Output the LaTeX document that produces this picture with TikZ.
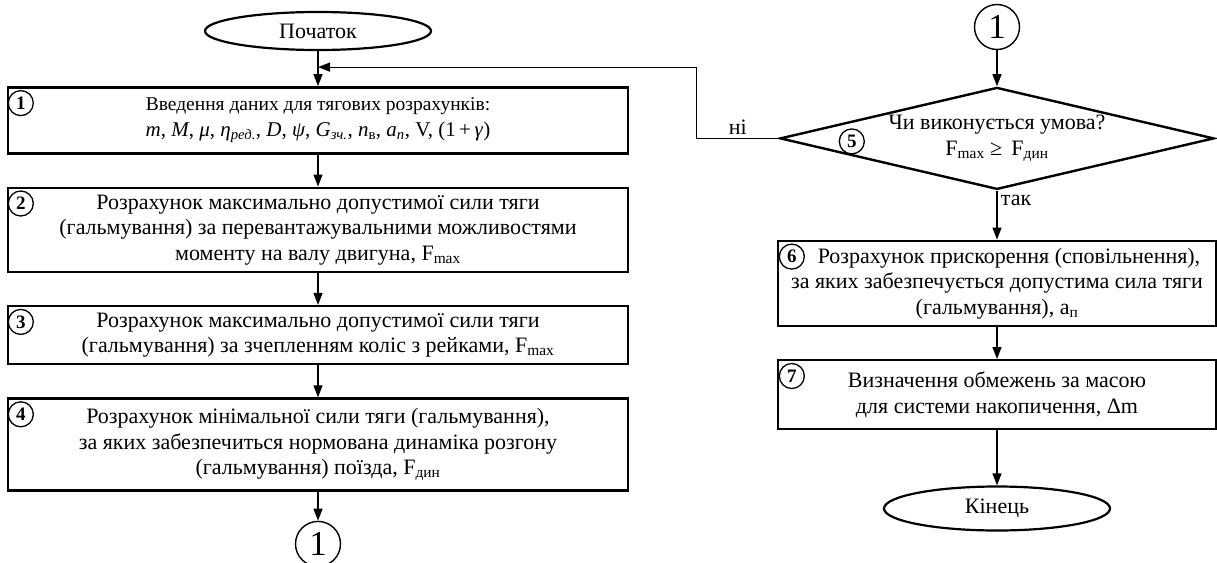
\documentclass[tikz,border=0pt]{standalone}
\usepackage{fontspec}
\setmainfont{Liberation Serif}
\usetikzlibrary{positioning, arrows.meta, shapes.geometric}

\begin{document}
\begin{tikzpicture}[x=1pt, y=-1pt,
  node distance=32pt,
  font=\fontsize{22}{25.5}\selectfont,
  box/.style={rectangle, draw, line width=2.4pt, minimum width=620pt,
              align=center, inner sep=2pt},
  rbox/.style={box, minimum width=438pt},
  term/.style={ellipse, draw, line width=2.2pt, minimum width=226pt,
               minimum height=38pt, inner sep=0pt},
  cond/.style={diamond, draw, line width=2.4pt, aspect=4.25, minimum width=434pt,
               minimum height=102pt, inner sep=0pt, align=center},
  conn/.style={circle, draw, line width=1.4pt, minimum size=45pt, inner sep=0pt,
               font=\fontsize{35}{35}\selectfont},
  num/.style={circle, draw, line width=1.3pt, minimum size=25pt, inner sep=0pt,
              font=\fontsize{19}{19}\selectfont\bfseries},
  arr/.style={-{Triangle[length=12pt, width=9pt]}, line width=1.2pt},
]
\useasboundingbox (0,0) rectangle (1217,562);

%% left column
\node[term] (start) at (318,31) {Початок};
\node[box, minimum height=66pt, below=35pt of start] (b1)
  {{\fontsize{19.5}{24}\selectfont Введення даних для тягових розрахунків:}\\
   {\fontsize{21}{24}\selectfont \textit{m}, \textit{M}, \textit{μ}, \textit{η}\textsubscript{\textit{ред.}}, \textit{D}, \textit{ψ},
   \textit{G}\textsubscript{\textit{зч.}}, \textit{n}\textsubscript{в}, \textit{a}\textsubscript{\textit{n}}, V, (1\,+\,\textit{γ})}};
\node[box, minimum height=84pt, below=of b1] (b2)
  {Розрахунок максимально допустимої сили тяги\\
   (гальмування) за перевантажувальними можливостями\\
   моменту на валу двигуна, F\textsubscript{max}};
\node[box, minimum height=58pt, below=of b2] (b3)
  {Розрахунок максимально допустимої сили тяги\\
   (гальмування) за зчепленням коліс з рейками, F\textsubscript{max}};
\node[box, minimum height=92pt, below=of b3] (b4)
  {Розрахунок мінімальної сили тяги (гальмування),\\
   за яких забезпечиться нормована динаміка розгону\\
   (гальмування) поїзда, F\textsubscript{дин}};
\node[conn, below=29pt of b4] (c1) {1};

%% right column
\node[conn] (c2) at (997,27) {1};
\node[cond, below=36pt of c2] (d5)
  {Чи виконується умова?\\ F\textsubscript{max} ≥\, F\textsubscript{дин}};
\node[rbox, minimum height=85pt, below=49pt of d5] (b6)
  {\hspace*{24pt}Розрахунок прискорення (сповільнення),\\
   за яких забезпечується допустима сила тяги\\
   (гальмування), a\textsubscript{п}};
\node[rbox, minimum height=69pt, below=of b6] (b7)
  {Визначення обмежень за масою\\ для системи накопичення, Δm};
\node[term, minimum height=44pt, below=55pt of b7] (end) {Кінець};

%% step numbers
\node[num] (n1) at ([xshift=14pt, yshift=-17pt]b1.north west) {1};
\node[num] (n2) at ([xshift=14pt, yshift=-17pt]b2.north west) {2};
\node[num] (n3) at ([xshift=14pt, yshift=-17pt]b3.north west) {3};
\node[num] (n4) at ([xshift=14pt, yshift=-17pt]b4.north west) {4};
\node[num] (n5) at ([xshift=73pt, yshift=-3pt]d5.west) {5};
\node[num] (n6) at ([xshift=15pt, yshift=-17pt]b6.north west) {6};
\node[num] (n7) at ([xshift=15pt, yshift=-17pt]b7.north west) {7};

%% arrows
\draw[arr] (start) -- (b1);
\draw[arr] (b1) -- (b2);
\draw[arr] (b2) -- (b3);
\draw[arr] (b3) -- (b4);
\draw[arr] (b4) -- (c1);
\draw[arr] (c2) -- (d5);
\draw[arr] (d5.south) -- node[right, pos=0.2] {так} (b6.north);
\draw[arr] (b6) -- (b7);
\draw[arr] (b7) -- (end);
\draw[arr] (d5.west) -- node[above] {ні} ++(-82,0) |- ([yshift=-16pt]start.south);

\end{tikzpicture}
\end{document}
